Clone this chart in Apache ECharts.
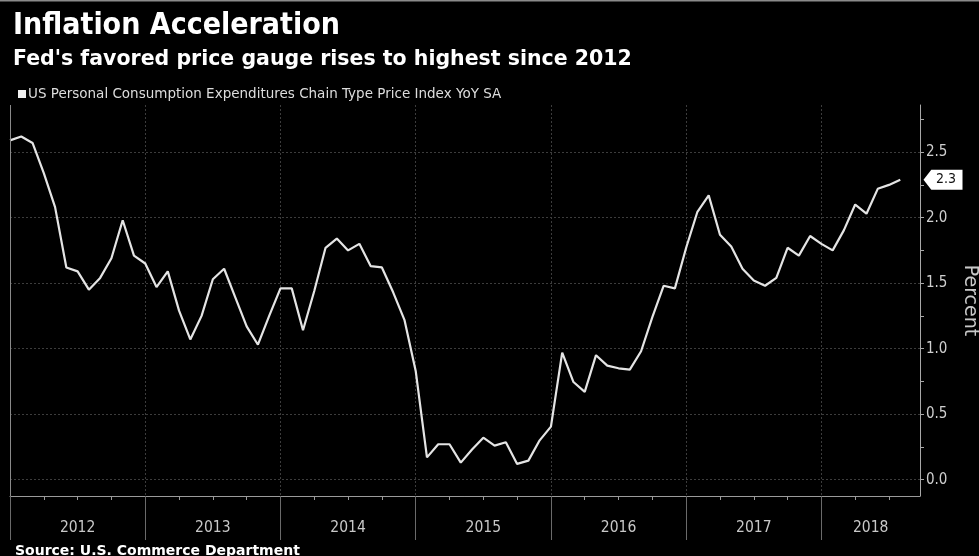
<!DOCTYPE html>
<html><head><meta charset="utf-8">
<script src="https://cdn.jsdelivr.net/npm/echarts@6/dist/echarts.min.js"></script>
<style>html,body{margin:0;padding:0;background:#000}#c{width:979px;height:556px}</style>
</head><body><div id="c"></div>
<script>
const titleText = 'Inflation Acceleration';
const subtitleText = "Fed's favored price gauge rises to highest since 2012";
const sourceText = 'Source: U.S. Commerce Department';
const seriesName = 'US Personal Consumption Expenditures Chain Type Price Index YoY SA';
const axisUnit = 'Percent';
const yearLabels = ['2012', '2013', '2014', '2015', '2016', '2017', '2018'];
// monthly YoY %, Dec 2011 .. Jul 2018
const pceYoY = [2.59, 2.62, 2.57, 2.34, 2.08, 1.62, 1.59, 1.45, 1.54, 1.69, 1.98, 1.71,
  1.65, 1.47, 1.59, 1.29, 1.07, 1.25, 1.53, 1.61, 1.39, 1.17, 1.03, 1.25,
  1.46, 1.46, 1.14, 1.44, 1.77, 1.84, 1.75, 1.80, 1.63, 1.62, 1.43, 1.22,
  0.83, 0.17, 0.27, 0.27, 0.13, 0.23, 0.32, 0.26, 0.285, 0.12, 0.145, 0.30,
  0.405, 0.97, 0.745, 0.67, 0.95, 0.87, 0.85, 0.84, 0.98, 1.24, 1.48, 1.46,
  1.77, 2.045, 2.17, 1.87, 1.78, 1.61, 1.52, 1.48, 1.54, 1.77, 1.71, 1.86,
  1.80, 1.75, 1.905, 2.10, 2.03, 2.22, 2.25, 2.29];
const yMajorTicks = [0, 0.5, 1.0, 1.5, 2.0, 2.5];
const yMinorTicks = [0, 0.25, 0.5, 0.75, 1.0, 1.25, 1.5, 1.75, 2.0, 2.25, 2.5, 2.75];

const xMax = 80.75, yMin = -0.125, yMax = 2.86;
const yearStarts = yearLabels.map((y, i) => i * 12);
const yearCenters = yearLabels.map((y, i) => (i * 12 + Math.min((i + 1) * 12, xMax)) / 2);
const quarterTicks = [];
for (let q = 0; q <= xMax; q += 3) quarterTicks.push(q);
const lastVal = pceYoY[pceYoY.length - 1];
const cond = "'DejaVu Sans Condensed', 'Liberation Sans Narrow', sans-serif";
const wide = "'DejaVu Sans', sans-serif";

const chart = echarts.init(document.getElementById('c'), null, {renderer: 'canvas'});
chart.setOption({
  backgroundColor: '#000',
  animation: false,
  graphic: [{type: 'rect', shape: {x: 0, y: 0, width: 979, height: 1.5}, style: {fill: '#8a8a8a'}}],
  title: [
    {text: titleText, left: 8, top: 6, textStyle: {color: '#fff', fontSize: 30, fontWeight: 'bold', fontFamily: cond}},
    {text: subtitleText, left: 8, top: 44, textStyle: {color: '#fff', fontSize: 20.5, fontWeight: 'bold', fontFamily: wide}},
    {text: sourceText, left: 10, top: 539, textStyle: {color: '#fff', fontSize: 14, fontWeight: 'bold', fontFamily: wide}}
  ],
  legend: {left: 13, top: 82, icon: 'rect', itemWidth: 8, itemHeight: 8, itemGap: 4,
    textStyle: {color: '#ddd', fontSize: 13.5, fontFamily: wide, padding: [0, 0, 0, -3]}, data: [seriesName]},
  grid: {left: 10, right: 59, top: 105, bottom: 60, containLabel: false, outerBoundsMode: 'none'},
  xAxis: [
    {type: 'value', min: 0, max: xMax, position: 'bottom',
      axisLine: {show: true, onZero: false, lineStyle: {color: '#9a9a9a', width: 1}},
      axisTick: {show: true, customValues: quarterTicks, length: 4, lineStyle: {color: '#9a9a9a'}},
      axisLabel: {show: false}, splitLine: {show: false}},
    {type: 'value', min: 0, max: xMax, position: 'bottom',
      axisLine: {show: false, onZero: false},
      axisTick: {show: true, customValues: yearStarts, length: 44, lineStyle: {color: '#6a6a6a'}},
      axisLabel: {show: true, customValues: yearCenters, margin: 24,
        formatter: v => yearLabels[Math.floor(v / 12)], color: '#c8c8c8', fontSize: 15.5, fontFamily: cond},
      splitLine: {show: true, lineStyle: {color: '#3c3c3c', type: [2, 2]}}}
  ],
  yAxis: [
    {type: 'value', min: yMin, max: yMax, position: 'right',
      axisLine: {show: true, onZero: false, lineStyle: {color: '#a8a8a8'}},
      axisTick: {show: true, inside: false, customValues: yMinorTicks, length: 4, lineStyle: {color: '#a8a8a8'}},
      minorTick: {show: false}, minorSplitLine: {show: false},
      axisLabel: {customValues: yMajorTicks, formatter: v => v.toFixed(1), color: '#cfcfcf', fontSize: 15, margin: 6, fontFamily: cond},
      splitLine: {show: false},
      name: axisUnit, nameLocation: 'middle', nameGap: 40, nameRotate: -90,
      nameTextStyle: {color: '#c8c8c8', fontSize: 19, fontFamily: wide}},
    {type: 'value', min: yMin, max: yMax, position: 'right',
      axisLine: {show: false, onZero: false}, axisTick: {show: false, customValues: yMajorTicks}, axisLabel: {show: false},
      minorTick: {show: false},
      splitLine: {show: true, lineStyle: {color: '#3c3c3c', type: [2, 2]}}}
  ],
  series: [{
    name: seriesName, type: 'line', xAxisIndex: 0, yAxisIndex: 0,
    showSymbol: false, symbol: 'none',
    lineStyle: {color: '#e4e4e4', width: 2.2},
    itemStyle: {color: '#f0f0f0'},
    data: pceYoY.map((v, i) => [i, v]),
    markLine: {
      silent: true, symbol: 'none', animation: false,
      lineStyle: {color: '#8a8a8a', type: 'solid', width: 1},
      label: {show: false},
      data: [{xAxis: 0}]
    },
    markPoint: {
      symbol: 'path://M0,10 L8,0 L40,0 L40,20 L8,20 Z',
      symbolSize: [39, 20], symbolOffset: [23, 0],
      itemStyle: {color: '#fff'},
      label: {show: true, formatter: p => p.value.toFixed(1), color: '#111', fontSize: 14, fontFamily: cond, offset: [3, 0]},
      data: [{coord: [xMax, lastVal], value: lastVal}]
    }
  }]
});
</script></body></html>
